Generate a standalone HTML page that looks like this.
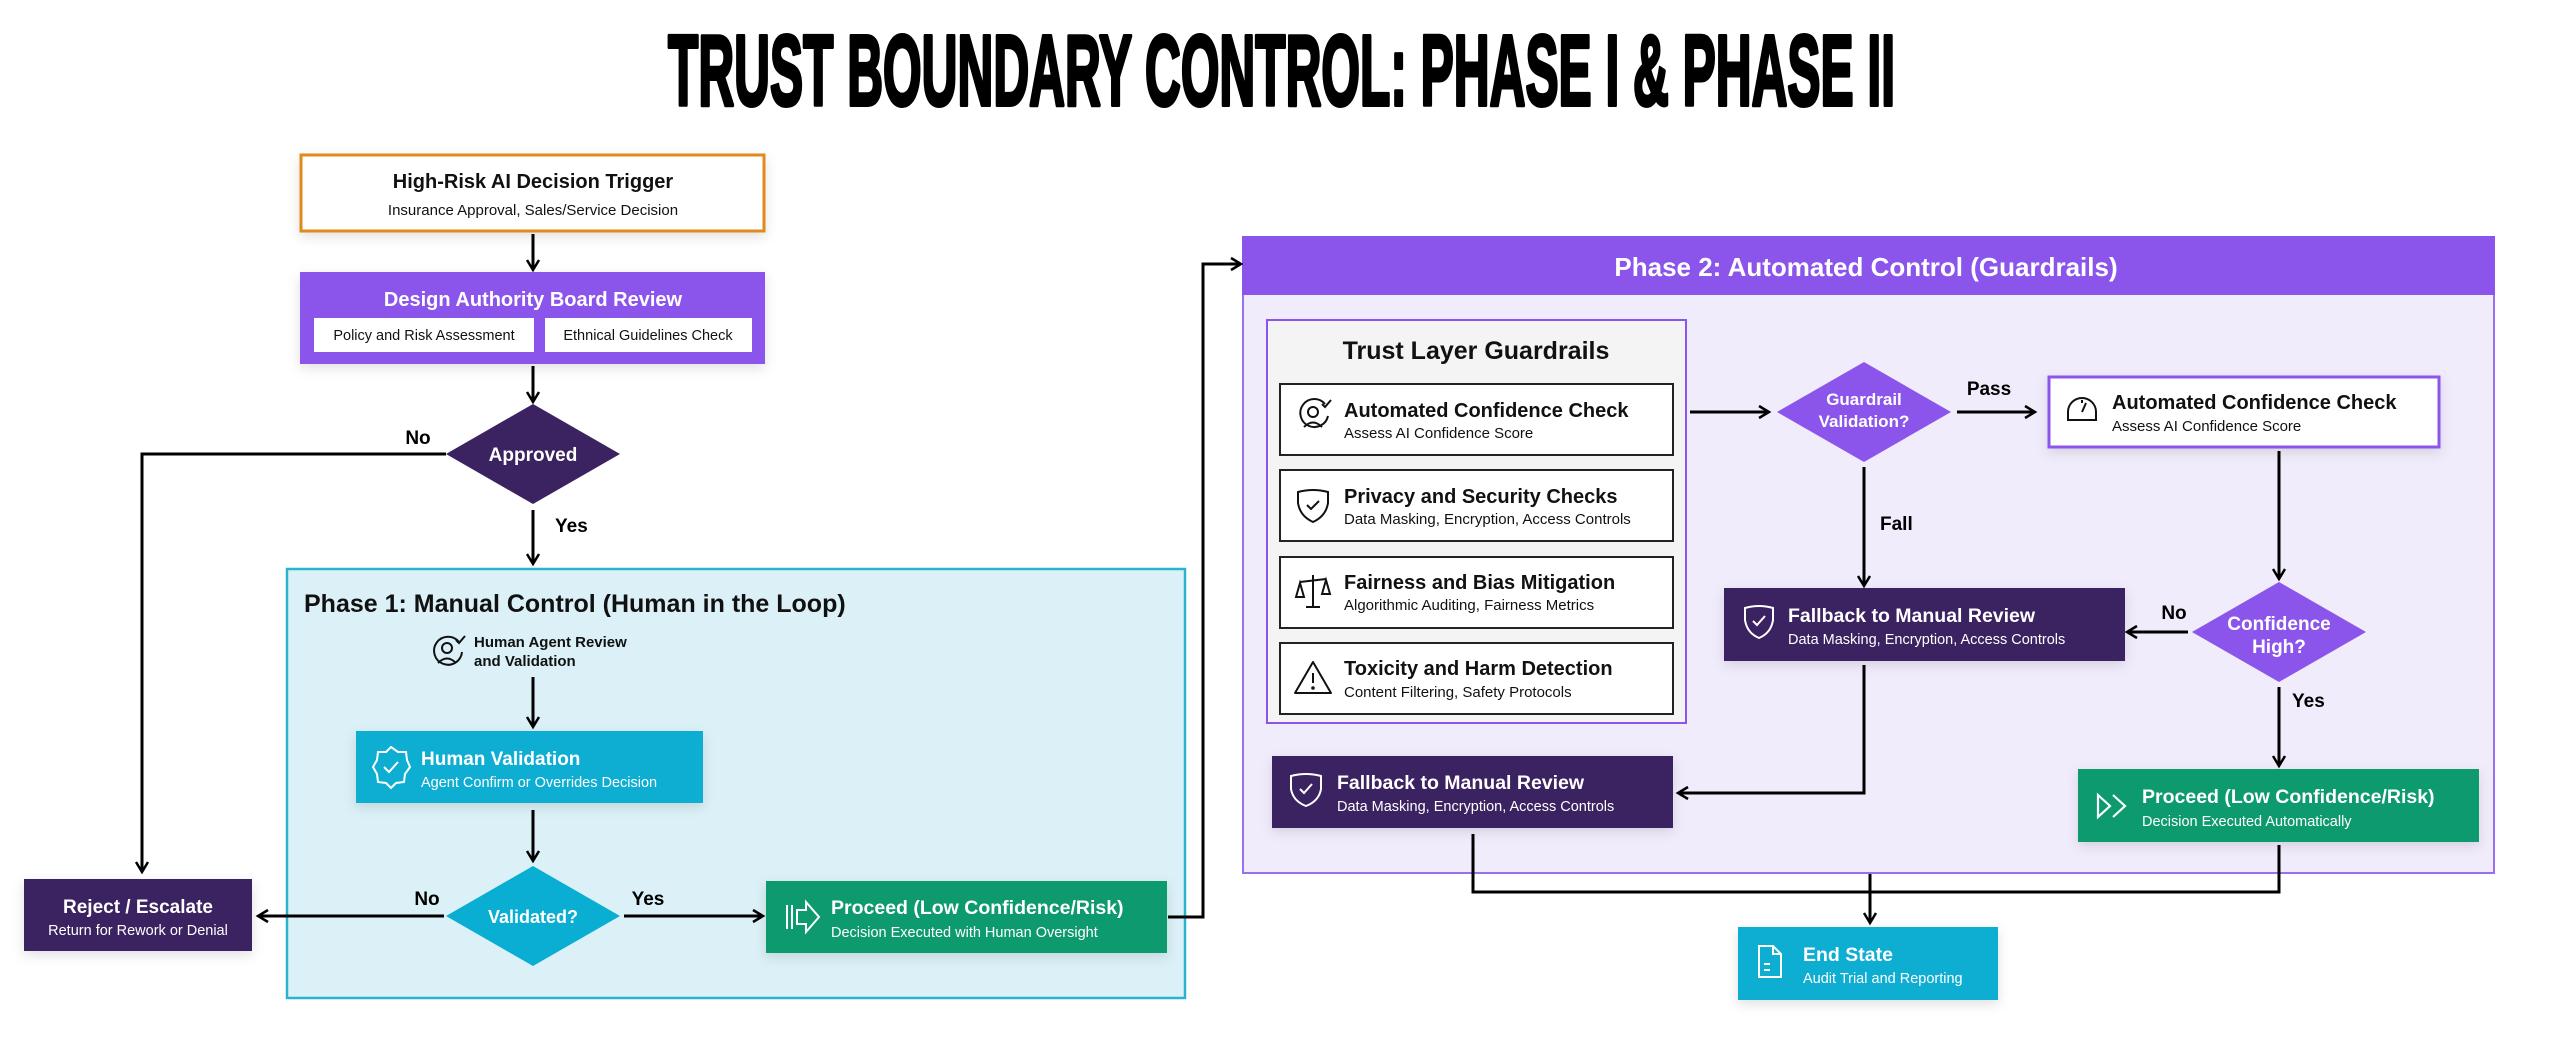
<!DOCTYPE html>
<html><head><meta charset="utf-8"><style>
html,body{margin:0;padding:0;background:#fff;}
svg{display:block;}
text{font-family:"Liberation Sans",sans-serif;}
.b{font-weight:bold;}
</style></head><body>
<svg width="2560" height="1047" viewBox="0 0 2560 1047" xmlns="http://www.w3.org/2000/svg">
<defs>
<marker id="ah" markerUnits="userSpaceOnUse" markerWidth="16" markerHeight="16" refX="13" refY="8" orient="auto">
<path d="M3,2 L13,8 L3,14" fill="none" stroke="#000" stroke-width="2.5"/>
</marker>
<filter id="sh" x="-10%" y="-20%" width="120%" height="150%"><feDropShadow dx="0" dy="4" stdDeviation="6" flood-color="#000" flood-opacity="0.12"/></filter>
</defs>

<!-- Title -->
<text x="668" y="105" textLength="1227" lengthAdjust="spacingAndGlyphs" font-size="100" stroke="#000" stroke-width="4" stroke-linejoin="round" style="font-family:'Liberation Sans Narrow','Liberation Sans',sans-serif;font-weight:bold">TRUST BOUNDARY CONTROL: PHASE I &amp; PHASE II</text>

<!-- Phase 1 container -->
<rect x="287" y="569" width="898" height="429" fill="#dbf1f7" stroke="#2ab3cf" stroke-width="2.5"/>
<text x="304" y="612" font-size="25" class="b" fill="#111">Phase 1: Manual Control (Human in the Loop)</text>

<!-- Phase 2 container -->
<rect x="1243" y="237" width="1251" height="636" fill="#f1ecfc" stroke="#9a6ef0" stroke-width="2"/>
<rect x="1242" y="236" width="1253" height="59" fill="#8b55ec"/>
<text x="1866" y="276" font-size="26" class="b" fill="#fff" text-anchor="middle">Phase 2: Automated Control (Guardrails)</text>

<g stroke="#000" stroke-width="3" fill="none">
<line x1="533" y1="234" x2="533" y2="270" marker-end="url(#ah)"/>
<line x1="533" y1="366" x2="533" y2="402" marker-end="url(#ah)"/>
<polyline points="446,454 142,454 142,872" marker-end="url(#ah)"/>
<line x1="533" y1="510" x2="533" y2="564" marker-end="url(#ah)"/>
<line x1="533" y1="677" x2="533" y2="727" marker-end="url(#ah)"/>
<line x1="533" y1="810" x2="533" y2="861" marker-end="url(#ah)"/>
<line x1="444" y1="916" x2="258" y2="916" marker-end="url(#ah)"/>
<line x1="624" y1="916" x2="763" y2="916" marker-end="url(#ah)"/>
<polyline points="1168,917 1203,917 1203,264 1241,264" marker-end="url(#ah)"/>
<line x1="1690" y1="412" x2="1769" y2="412" marker-end="url(#ah)"/>
<line x1="1957" y1="412" x2="2035" y2="412" marker-end="url(#ah)"/>
<line x1="1864" y1="467" x2="1864" y2="586" marker-end="url(#ah)"/>
<line x1="2279" y1="451" x2="2279" y2="579" marker-end="url(#ah)"/>
<line x1="2188" y1="632" x2="2127" y2="632" marker-end="url(#ah)"/>
<line x1="2279" y1="687" x2="2279" y2="766" marker-end="url(#ah)"/>
<polyline points="1864,665 1864,793 1678,793" marker-end="url(#ah)"/>
<polyline points="1473,834 1473,892 2279,892 2279,845"/>
<line x1="1870" y1="874" x2="1870" y2="923" marker-end="url(#ah)"/>
</g>

<g class="b" font-size="19" fill="#000" font-weight="bold">
<text x="418" y="444" text-anchor="middle">No</text>
<text x="555" y="532">Yes</text>
<text x="427" y="905" text-anchor="middle">No</text>
<text x="648" y="905" text-anchor="middle">Yes</text>
<text x="1989" y="395" text-anchor="middle">Pass</text>
<text x="1880" y="530">Fall</text>
<text x="2174" y="619" text-anchor="middle">No</text>
<text x="2292" y="707">Yes</text>
</g>

<rect x="301" y="155" width="463" height="76" fill="#fff" stroke="#e08a1e" stroke-width="3" filter="url(#sh)"/>
<text x="533" y="188" font-size="20" class="b" text-anchor="middle" fill="#111">High-Risk AI Decision Trigger</text>
<text x="533" y="215" font-size="15" text-anchor="middle" fill="#111">Insurance Approval, Sales/Service Decision</text>

<rect x="300" y="272" width="465" height="92" fill="#8b55ec" filter="url(#sh)"/>
<text x="533" y="306" font-size="20" class="b" text-anchor="middle" fill="#fff">Design Authority Board Review</text>
<rect x="314" y="318" width="220" height="34" fill="#fff"/>
<rect x="545" y="318" width="207" height="34" fill="#fff"/>
<text x="424" y="340" font-size="14.5" text-anchor="middle" fill="#111">Policy and Risk Assessment</text>
<text x="648" y="340" font-size="14.5" text-anchor="middle" fill="#111">Ethnical Guidelines Check</text>

<polygon points="533,404 620,454 533,504 446,454" fill="#3b2260"/>
<text x="533" y="461" font-size="19" class="b" text-anchor="middle" fill="#fff">Approved</text>

<rect x="24" y="879" width="228" height="72" fill="#3b2260" filter="url(#sh)"/>
<text x="138" y="913" font-size="19" class="b" text-anchor="middle" fill="#fff">Reject / Escalate</text>
<text x="138" y="935" font-size="14.5" text-anchor="middle" fill="#fff">Return for Rework or Denial</text>

<g fill="none" stroke="#111" stroke-width="2">
<path d="M459,642 A14,14 0 1 0 462,652"/>
<circle cx="447" cy="648" r="5"/>
<path d="M438,663 Q447,654 456,663"/>
<path d="M456,640 l3,3 l6,-7"/>
</g>
<text x="474" y="647" font-size="15" class="b" fill="#111">Human Agent Review</text>
<text x="474" y="666" font-size="15" class="b" fill="#111">and Validation</text>

<rect x="356" y="731" width="347" height="72" fill="#0aaed2" filter="url(#sh)"/>
<g fill="none" stroke="#fff" stroke-width="2">
<polygon points="391,747 398,752 406,752 407,760 410,767 405,774 404,782 396,783 391,788 386,783 378,782 377,774 373,767 377,760 378,752 386,752"/>
<path d="M384,767 l5,5 l9,-10"/>
</g>
<text x="421" y="765" font-size="19" class="b" fill="#fff">Human Validation</text>
<text x="421" y="787" font-size="14.5" fill="#fff">Agent Confirm or Overrides Decision</text>

<polygon points="533,866 620,916 533,966 446,916" fill="#0aaed2"/>
<text x="533" y="923" font-size="18" class="b" text-anchor="middle" fill="#fff">Validated?</text>

<rect x="766" y="881" width="401" height="72" fill="#079a6e" filter="url(#sh)"/>
<g fill="none" stroke="#fff" stroke-width="2">
<line x1="787" y1="905" x2="787" y2="929"/><line x1="792" y1="905" x2="792" y2="929"/>
<path d="M797,910 h9 v-8 l13,15 l-13,15 v-8 h-9 z"/>
</g>
<text x="831" y="914" font-size="19.5" class="b" fill="#fff">Proceed (Low Confidence/Risk)</text>
<text x="831" y="937" font-size="14.5" fill="#fff">Decision Executed with Human Oversight</text>

<rect x="1267" y="320" width="419" height="403" fill="#f4f4f4" stroke="#8b55ec" stroke-width="2"/>
<text x="1476" y="359" font-size="25" class="b" text-anchor="middle" fill="#111">Trust Layer Guardrails</text>
<g fill="#fff" stroke="#222" stroke-width="2">
<rect x="1280" y="384" width="393" height="71"/>
<rect x="1280" y="470" width="393" height="71"/>
<rect x="1280" y="557" width="393" height="71"/>
<rect x="1280" y="643" width="393" height="71"/>
</g>
<g fill="#111">
<text x="1344" y="417" font-size="20" class="b">Automated Confidence Check</text>
<text x="1344" y="438" font-size="15">Assess AI Confidence Score</text>
<text x="1344" y="503" font-size="20" class="b">Privacy and Security Checks</text>
<text x="1344" y="524" font-size="15">Data Masking, Encryption, Access Controls</text>
<text x="1344" y="589" font-size="20" class="b">Fairness and Bias Mitigation</text>
<text x="1344" y="610" font-size="15">Algorithmic Auditing, Fairness Metrics</text>
<text x="1344" y="675" font-size="20" class="b">Toxicity and Harm Detection</text>
<text x="1344" y="697" font-size="15">Content Filtering, Safety Protocols</text>
</g>
<g fill="none" stroke="#111" stroke-width="2">
<path d="M1325,404 A14,14 0 1 0 1328,416"/><circle cx="1313" cy="412" r="5"/><path d="M1304,427 Q1313,418 1322,427"/><path d="M1322,404 l3,3 l6,-7"/>
<path d="M1298,492 Q1313,488 1328,492 L1328,503 Q1326,516 1313,522 Q1300,516 1298,503 Z"/><path d="M1307,505 l4,4 l8,-8"/>
<line x1="1313" y1="575" x2="1313" y2="607"/><line x1="1300" y1="582" x2="1326" y2="579"/><line x1="1306" y1="607" x2="1320" y2="607"/>
<path d="M1296,597 l4,-14 l4,14 z"/><path d="M1322,594 l4,-14 l4,14 z"/>
<path d="M1313,662 L1331,693 L1295,693 Z" stroke-linejoin="round"/><line x1="1313" y1="673" x2="1313" y2="683"/><circle cx="1313" cy="688" r="0.8"/>
</g>

<polygon points="1864,362 1951,412 1864,462 1777,412" fill="#8b55ec"/>
<text x="1864" y="405" font-size="17" class="b" text-anchor="middle" fill="#fff">Guardrail</text>
<text x="1864" y="427" font-size="17" class="b" text-anchor="middle" fill="#fff">Validation?</text>

<rect x="2049" y="377" width="390" height="70" fill="#fff" stroke="#8b55ec" stroke-width="3" filter="url(#sh)"/>
<g fill="none" stroke="#111" stroke-width="2">
<path d="M2068,420 L2068,412 A14,14 0 0 1 2096,412 L2096,420 Z"/><line x1="2082" y1="412" x2="2086" y2="403"/><line x1="2082" y1="400" x2="2082" y2="403"/>
</g>
<text x="2112" y="409" font-size="20" class="b" fill="#111">Automated Confidence Check</text>
<text x="2112" y="431" font-size="15" fill="#111">Assess AI Confidence Score</text>

<rect x="1724" y="588" width="401" height="73" fill="#3b2260" filter="url(#sh)"/>
<g fill="none" stroke="#fff" stroke-width="2"><path d="M1745,608 Q1759,604 1773,608 L1773,620 Q1771,633 1759,638 Q1747,633 1745,620 Z"/><path d="M1753,621 l4,4 l8,-9"/></g>
<text x="1788" y="622" font-size="19.5" class="b" fill="#fff">Fallback to Manual Review</text>
<text x="1788" y="644" font-size="14.5" fill="#fff">Data Masking, Encryption, Access Controls</text>

<polygon points="2279,582 2366,632 2279,682 2192,632" fill="#8b55ec"/>
<text x="2279" y="630" font-size="19" class="b" text-anchor="middle" fill="#fff">Confidence</text>
<text x="2279" y="653" font-size="19" class="b" text-anchor="middle" fill="#fff">High?</text>

<rect x="1272" y="756" width="401" height="72" fill="#3b2260" filter="url(#sh)"/>
<g fill="none" stroke="#fff" stroke-width="2"><path d="M1291,776 Q1306,772 1321,776 L1321,789 Q1319,801 1306,806 Q1293,801 1291,789 Z"/><path d="M1300,789 l4,4 l8,-9"/></g>
<text x="1337" y="789" font-size="19.5" class="b" fill="#fff">Fallback to Manual Review</text>
<text x="1337" y="811" font-size="14.5" fill="#fff">Data Masking, Encryption, Access Controls</text>

<rect x="2078" y="769" width="401" height="73" fill="#079a6e" filter="url(#sh)"/>
<g fill="none" stroke="#fff" stroke-width="2.2"><path d="M2098,795 l12,11 l-12,11 z"/><path d="M2113,795 l12,11 l-12,11"/></g>
<text x="2142" y="803" font-size="19.5" class="b" fill="#fff">Proceed (Low Confidence/Risk)</text>
<text x="2142" y="826" font-size="14.5" fill="#fff">Decision Executed Automatically</text>

<rect x="1738" y="927" width="260" height="73" fill="#0aaed2" filter="url(#sh)"/>
<g fill="none" stroke="#fff" stroke-width="2"><path d="M1759,946 h14 l8,8 v23 h-22 z"/><path d="M1773,946 v8 h8"/><line x1="1764" y1="964" x2="1770" y2="964"/><line x1="1764" y1="970" x2="1770" y2="970"/></g>
<text x="1803" y="961" font-size="19.5" class="b" fill="#fff">End State</text>
<text x="1803" y="983" font-size="14.5" fill="#fff">Audit Trial and Reporting</text>
</svg>
</body></html>
